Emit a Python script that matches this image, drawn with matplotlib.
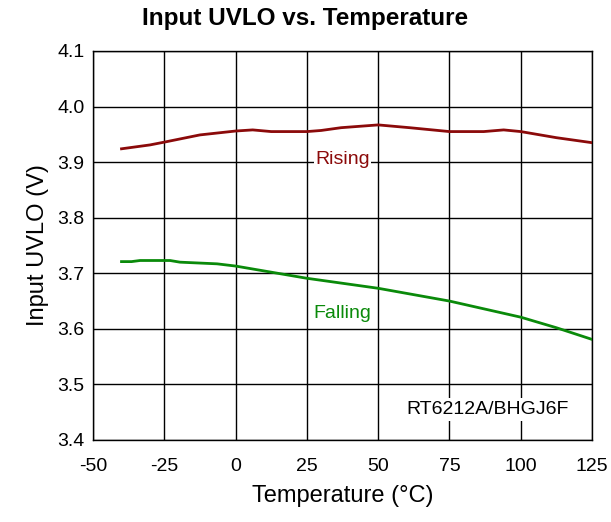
import numpy as np
import matplotlib.pyplot as plt

plt.rcParams['font.family'] = ['Liberation Sans', 'DejaVu Sans']
plt.rcParams['axes.unicode_minus'] = False

# values
temp_rising = [-40, -30, -25, -12.5, 0, 6, 12.5, 25, 30, 37, 50, 61, 75, 87, 94, 100, 112.5, 125]
v_rising = [3.924, 3.931, 3.936, 3.949, 3.956, 3.958, 3.955, 3.955, 3.957, 3.962, 3.967,
            3.962, 3.955, 3.955, 3.958, 3.955, 3.944, 3.935]

temp_falling = [-40, -36.5, -33.5, -23, -19.5, -6.5, 0, 25, 50, 75, 100, 112.5, 125]
v_falling = [3.721, 3.721, 3.723, 3.723, 3.720, 3.717, 3.713, 3.691, 3.673, 3.650,
             3.621, 3.602, 3.581]

x_ticks = [-50, -25, 0, 25, 50, 75, 100, 125]
y_ticks = [3.4, 3.5, 3.6, 3.7, 3.8, 3.9, 4.0, 4.1]

fig = plt.figure(figsize=(6.11, 5.22), dpi=100)
ax = fig.add_axes([0.1522, 0.1571, 0.8168, 0.7452])

ax.plot(temp_rising, v_rising, color='#8b0a0a', lw=2.0, zorder=3)
ax.plot(temp_falling, v_falling, color='#0a8a0a', lw=2.0, zorder=3)

ax.set_xlim(-50, 125)
ax.set_ylim(3.4, 4.1)
ax.set_xticks(x_ticks)
ax.set_yticks(y_ticks)
ax.set_yticklabels(['%.1f' % v for v in y_ticks])
ax.grid(True, color='black', lw=1.0)
ax.set_axisbelow(True)
ax.tick_params(length=0, labelsize=14)
ax.tick_params(axis='x', pad=13)
ax.tick_params(axis='y', pad=6)
for s in ax.spines.values():
    s.set_linewidth(1.0)

ax.text(37.5, 3.905, 'Rising', color='#8b0a0a', fontsize=14, ha='center', va='center',
        bbox=dict(facecolor='white', edgecolor='none', pad=1), zorder=4)
ax.text(37.5, 3.628, 'Falling', color='#0a8a0a', fontsize=14, ha='center', va='center',
        bbox=dict(facecolor='white', edgecolor='none', pad=1), zorder=4)
ax.text(88.5, 3.455, 'RT6212A/BHGJ6F', color='black', fontsize=14, ha='center', va='center',
        bbox=dict(facecolor='white', edgecolor='none', pad=2), zorder=4)

fig.text(0.5, 0.965, 'Input UVLO vs. Temperature', fontsize=17.5, fontweight='bold',
         ha='center', va='center')
ax.set_xlabel('Temperature (°C)', fontsize=17, labelpad=7)
ax.set_ylabel('Input UVLO (V)', fontsize=17, labelpad=6)

plt.savefig('out.png', dpi=100)
